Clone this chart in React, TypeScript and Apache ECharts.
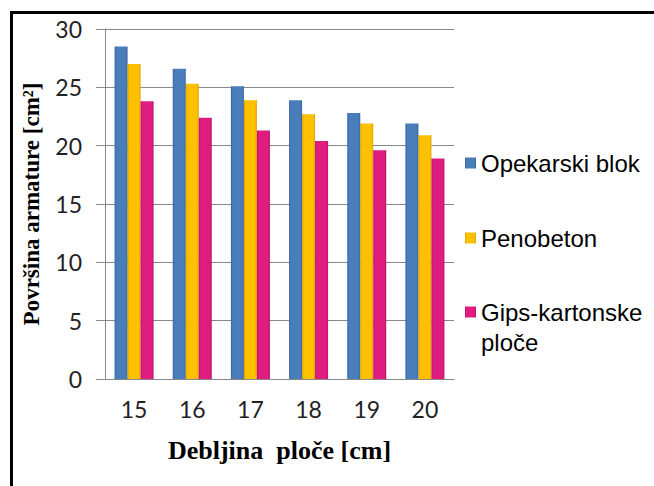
import React, { useEffect, useRef } from "react";
import * as echarts from "echarts";

const categories = ["15", "16", "17", "18", "19", "20"];
const seriesNames = ["Opekarski blok", "Penobeton", "Gips-kartonske ploče"];
const opekarski = [28.5, 26.6, 25.1, 23.9, 22.8, 21.9];
const penobeton = [27.0, 25.3, 23.9, 22.7, 21.9, 20.9];
const gips = [23.8, 22.4, 21.3, 20.4, 19.6, 18.9];
const yTicks = { min: 0, max: 30, interval: 5 };

const grad = (edge: string, mid: string) =>
  new echarts.graphic.LinearGradient(0, 0, 1, 0, [
    { offset: 0, color: edge },
    { offset: 0.15, color: mid },
    { offset: 0.85, color: mid },
    { offset: 1, color: edge },
  ]);

export default function App() {
  const ref = useRef<HTMLDivElement>(null);
  useEffect(() => {
    if (!ref.current) return;
    const chart = echarts.init(ref.current, null, { renderer: "svg" });
    const colors = [
      grad("#3a62a0", "#4a7ebb"),
      grad("#d9a200", "#ffc000"),
      grad("#b8126a", "#e01c80"),
    ];
    const data = [opekarski, penobeton, gips];
    const legendTops = [151, 226, 300];
    const legendFont = "Liberation Sans";
    const serif = "Liberation Serif";
    const sans = "Lato";
    chart.setOption({
      animation: false,
      backgroundColor: "#fff",
      grid: { left: 105, right: 200, top: 29, bottom: 107, containLabel: false },
      legend: seriesNames.map((n, i) => ({
        data: [n],
        left: 465,
        top: legendTops[i],
        padding: 0,
        itemWidth: 11,
        itemHeight: 11,
        itemGap: 0,
        icon: "rect",
        formatter: (name: string) => (name === "Gips-kartonske ploče" ? "Gips-kartonske" : name),
        textStyle: { fontFamily: legendFont, fontSize: 24, color: "#000" },
      })),
      graphic: [
        {
          type: "text",
          left: 481,
          top: 330,
          style: { text: "ploče", fontFamily: legendFont, fontSize: 24, fill: "#000" },
        },
        { type: "line", shape: { x1: 11.5, y1: 12, x2: 11.5, y2: 486 }, style: { stroke: "#000", lineWidth: 3 } },
        { type: "line", shape: { x1: 10, y1: 12.5, x2: 654, y2: 12.5 }, style: { stroke: "#000", lineWidth: 3 } },
      ],
      xAxis: {
        type: "category",
        data: categories,
        axisLine: { lineStyle: { color: "#888", width: 1 } },
        axisTick: { show: false },
        axisLabel: { fontFamily: sans, fontSize: 23, color: "#222", margin: 18 },
        name: "Debljina  ploče [cm]",
        nameLocation: "middle",
        nameGap: 58,
        nameTextStyle: { fontFamily: serif, fontSize: 26, fontWeight: "bold", color: "#000" },
      },
      yAxis: {
        type: "value",
        min: yTicks.min,
        max: yTicks.max,
        interval: yTicks.interval,
        axisLine: { show: true, lineStyle: { color: "#888", width: 1 } },
        axisTick: { show: true, length: 9, lineStyle: { color: "#888" } },
        splitLine: { lineStyle: { color: "#888", width: 1 } },
        axisLabel: { fontFamily: sans, fontSize: 23, color: "#222", margin: 23 },
        name: "Površina armature [cm²]",
        nameLocation: "middle",
        nameGap: 62,
        nameRotate: 90,
        nameTextStyle: { fontFamily: serif, fontSize: 23, fontWeight: "bold", color: "#000" },
      },
      series: seriesNames.map((n, i) => ({
        name: n,
        type: "bar",
        data: data[i],
        barWidth: 13,
        barGap: "0%",
        itemStyle: { color: colors[i] },
      })),
    });
    return () => chart.dispose();
  }, []);
  return <div ref={ref} style={{ position: "fixed", left: 0, top: 0, width: 654, height: 486 }} />;
}
